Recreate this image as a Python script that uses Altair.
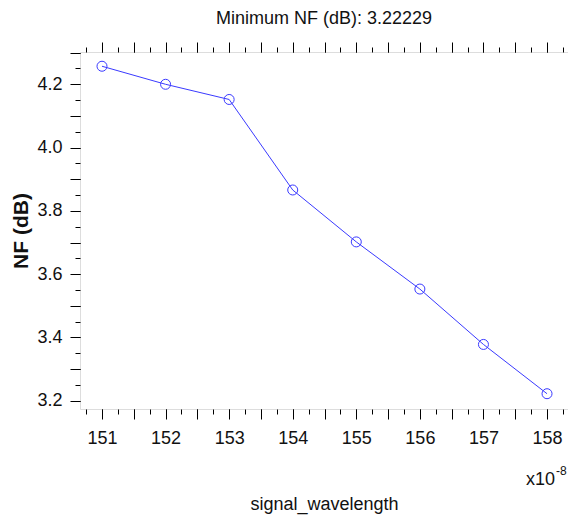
import altair as alt
import pandas as pd

# ---- data ----
wavelength = [151, 152, 153, 154, 155, 156, 157, 158]
nf_db = [4.257, 4.200, 4.152, 3.866, 3.702, 3.553, 3.378, 3.22229]

chart_title = ["Minimum NF (dB): 3.22229"]
x_title = "signal_wavelength"
y_title = "NF (dB)"
exp_base = ["x10"]
exp_power = ["-8"]

x_major = [151 + 0.5 * i for i in range(15)]          # 151 ... 158
x_minor = [150.75 + 0.25 * i for i in range(31)]      # 150.75 ... 158.25
y_major = [round(3.2 + 0.1 * i, 2) for i in range(12)]   # 3.2 ... 4.3
y_minor = [round(3.2 + 0.05 * i, 3) for i in range(23)]  # 3.2 ... 4.3

FONT = "Liberation Sans"
TXT = "#111111"
BLUE = "#3a3aff"

df = pd.DataFrame({"wavelength": wavelength, "nf": nf_db})

xs = alt.Scale(domain=[150.654, 158.33], nice=False, zero=False)
ys = alt.Scale(domain=[3.174, 4.302], nice=False, zero=False)

common = dict(domain=False, grid=False, tickColor="black", tickWidth=1,
              labelFont=FONT, labelFontSize=18, labelColor=TXT)

x_lab = "abs(datum.value - round(datum.value)) < 1e-6 ? format(datum.value, 'd') : ''"
y_lab = "abs(datum.value * 5 - round(datum.value * 5)) < 1e-6 ? format(datum.value, '.1f') : ''"

base = alt.Chart(df)

line = base.mark_line(color=BLUE, strokeWidth=1).encode(
    x=alt.X("wavelength:Q", scale=xs,
            axis=alt.Axis(orient="bottom", values=x_major, tickSize=10,
                          labelExpr=x_lab, labelPadding=10, labelFlush=False,
                          title=x_title, titleFont=FONT, titleFontSize=18,
                          titleFontWeight="normal", titleColor=TXT,
                          titleY=100, titleBaseline="alphabetic", **common)),
    y=alt.Y("nf:Q", scale=ys,
            axis=alt.Axis(orient="left", values=y_major, tickSize=10,
                          labelExpr=y_lab, labelPadding=8, labelFlush=False,
                          title=y_title, titleFont=FONT, titleFontSize=21,
                          titleFontWeight="bold", titleColor=TXT,
                          titleX=-53, titleBaseline="alphabetic", **common)),
)

points = base.mark_point(shape="circle", filled=False, color=BLUE, size=100,
                         strokeWidth=1, opacity=1).encode(
    x=alt.X("wavelength:Q", scale=xs,
            axis=alt.Axis(orient="bottom", values=x_minor, tickSize=5,
                          labels=False, title=None, **common)),
    y=alt.Y("nf:Q", scale=ys,
            axis=alt.Axis(orient="left", values=y_minor, tickSize=5,
                          labels=False, title=None, **common)),
)

top_major = base.mark_point(opacity=0).encode(
    x=alt.X("wavelength:Q", scale=xs,
            axis=alt.Axis(orient="top", values=x_major, tickSize=10,
                          labels=False, title=None, **common)),
    y=alt.Y("nf:Q", scale=ys,
            axis=alt.Axis(orient="right", values=y_major, tickSize=10,
                          labels=False, title=None, **common)),
)

top_minor = base.mark_point(opacity=0).encode(
    x=alt.X("wavelength:Q", scale=xs,
            axis=alt.Axis(orient="top", values=x_minor, tickSize=5,
                          labels=False, title=None, **common)),
    y=alt.Y("nf:Q", scale=ys,
            axis=alt.Axis(orient="right", values=y_minor, tickSize=5,
                          labels=False, title=None, **common)),
)

title_txt = alt.Chart(pd.DataFrame({"t": chart_title})).mark_text(
    align="center", baseline="alphabetic", font=FONT, fontSize=18, color=TXT
).encode(x=alt.value(244), y=alt.value(-28), text="t:N")

exp1 = alt.Chart(pd.DataFrame({"t": exp_base})).mark_text(
    align="right", baseline="alphabetic", font=FONT, fontSize=18, color=TXT
).encode(x=alt.value(475), y=alt.value(433), text="t:N")

exp2 = alt.Chart(pd.DataFrame({"t": exp_power})).mark_text(
    align="left", baseline="alphabetic", font=FONT, fontSize=12, color=TXT
).encode(x=alt.value(476), y=alt.value(423), text="t:N")

chart = alt.layer(line, points, top_major, top_minor, title_txt, exp1, exp2).resolve_axis(
    x="independent", y="independent"
).properties(
    width=488, height=357,
    autosize="none",
    padding={"left": 72, "top": 44, "right": 0, "bottom": 106},
).configure_view(stroke="black", strokeWidth=1).configure(background="white")

chart.save("out.html", embed_options={"renderer": "svg", "actions": False})
